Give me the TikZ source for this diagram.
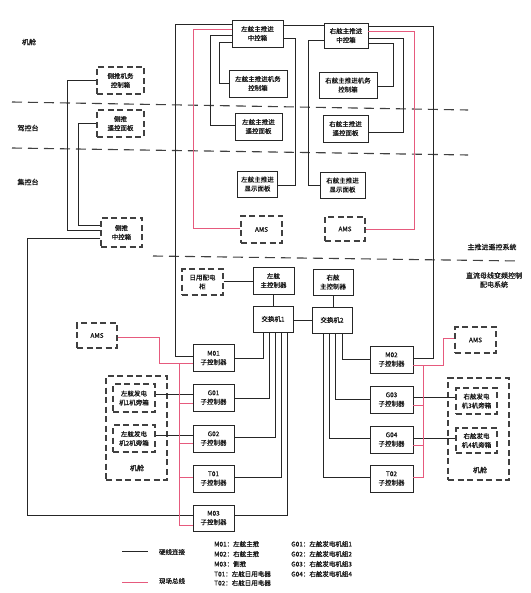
\documentclass[tikz,border=0pt]{standalone}
\usepackage{fontspec}
\newfontfamily\cjk[FakeBold=0.6]{Noto Sans CJK SC}
\begin{document}
\begin{tikzpicture}[x=1pt,y=-1pt,
  every node/.style={font=\cjk\fontsize{6.5}{9}\selectfont, text=black!90, inner sep=0pt, align=center},
  box/.style={draw=black!85, line width=0.9pt, fill=white},
  dbox/.style={draw=black!75, line width=1.1pt, dash pattern=on 6pt off 3.5pt, fill=white},
  wire/.style={draw=black!85, line width=0.8pt},
  fbus/.style={draw={rgb,255:red,230;green,90;blue,125}, line width=1pt},
  divider/.style={draw=black!75, line width=1.1pt, dash pattern=on 10pt off 6pt},
  lbl/.style={font=\cjk\fontsize{7}{9}\selectfont}
]
\useasboundingbox (0,0) rectangle (530,593);

% dividers
\coordinate (d1a) at (12,102); \coordinate (d1b) at (468,110);
\coordinate (d2a) at (12,148); \coordinate (d2b) at (468,155);
\coordinate (d3a) at (153,256); \coordinate (d3b) at (520,261);
\draw[divider] (d1a) -- (d1b);
\draw[divider] (d2a) -- (d2b);
\draw[divider] (d3a) -- (d3b);

% zone labels
\node[lbl] (zjc) at (29,42) {机舱};
\node[lbl] (zjk) at (28,128) {驾控台};
\node[lbl] (zjz) at (28,182) {集控台};
\node[lbl] (zzt) at (492,247) {主推进遥控系统};
\node[lbl] (zzl) at (494,280) {直流母线变频控制\\配电系统};

% top boxes
\node[box, minimum width=51, minimum height=27] (LC) at (257.5,33.5) {左舷主推进\\中控箱};
\node[box, minimum width=44, minimum height=25] (RC) at (346,35.5) {右舷主推进\\中控箱};
\node[box, minimum width=58, minimum height=27] (LJ) at (258,83.5) {左舷主推进机务\\控制箱};
\node[box, minimum width=58, minimum height=26] (RJ) at (348,85) {右舷主推进机务\\控制箱};
\node[box, minimum width=47, minimum height=27] (LY) at (258.5,126.5) {左舷主推进\\遥控面板};
\node[box, minimum width=45, minimum height=27] (RY) at (345.5,128.5) {右舷主推进\\遥控面板};
\node[box, minimum width=40, minimum height=26] (LX) at (257.5,184) {左舷主推进\\显示面板};
\node[box, minimum width=45, minimum height=26] (RX) at (342.5,185) {右舷主推进\\显示面板};
\node[dbox, minimum width=41, minimum height=27] (AMSL) at (261.5,229.5) {AMS};
\node[dbox, minimum width=40, minimum height=24] (AMSR) at (345,229) {AMS};

% side thruster boxes
\node[dbox, minimum width=47, minimum height=27] (TJ) at (120.5,80.5) {侧推机务\\控制箱};
\node[dbox, minimum width=47, minimum height=27] (TY) at (120.5,123.5) {侧推\\遥控面板};
\node[dbox, minimum width=41, minimum height=29] (TZ) at (121.5,232.5) {侧推\\中控箱};

% middle
\node[dbox, minimum width=41, minimum height=26] (DP) at (202.5,282) {日用配电\\柜};
\node[box, minimum width=41, minimum height=27] (LM) at (273.5,280.5) {左舷\\主控制器};
\node[box, minimum width=40, minimum height=26] (RM) at (333,282) {右舷\\主控制器};
\node[box, minimum width=40, minimum height=26] (SW1) at (273,319) {交换机1};
\node[box, minimum width=40, minimum height=26] (SW2) at (332,320) {交换机2};

% sub controllers left
\node[box, minimum width=41, minimum height=27] (M01) at (213.5,358) {M01\\子控制器};
\node[box, minimum width=41, minimum height=27] (G01) at (213.5,397.5) {G01\\子控制器};
\node[box, minimum width=41, minimum height=27] (G02) at (213.5,438.5) {G02\\子控制器};
\node[box, minimum width=41, minimum height=27] (T01) at (213.5,478.5) {T01\\子控制器};
\node[box, minimum width=41, minimum height=26] (M03) at (213.5,518) {M03\\子控制器};
% sub controllers right
\node[box, minimum width=43, minimum height=27] (M02) at (391.5,359.5) {M02\\子控制器};
\node[box, minimum width=43, minimum height=27] (G03) at (391.5,399.5) {G03\\子控制器};
\node[box, minimum width=43, minimum height=27] (G04) at (391.5,439.5) {G04\\子控制器};
\node[box, minimum width=43, minimum height=27] (T02) at (391.5,478.5) {T02\\子控制器};

% AMS side boxes
\node[dbox, minimum width=40, minimum height=25] (AMSLL) at (97,335.5) {AMS};
\node[dbox, minimum width=41, minimum height=26] (AMSRR) at (475.5,340) {AMS};

% engine rooms
\node[dbox, minimum width=61, minimum height=104] (ERL) at (136.5,428) {};
\node[lbl] (ERLt) at (137,468) {机舱};
\node[dbox, minimum width=42, minimum height=28] (GEN1) at (134,398) {左舷发电\\机1机旁箱};
\node[dbox, minimum width=42, minimum height=27] (GEN2) at (134,438.5) {左舷发电\\机2机旁箱};
\node[dbox, minimum width=61, minimum height=102] (ERR) at (478.5,429) {};
\node[lbl] (ERRt) at (480,470) {机舱};
\node[dbox, minimum width=41, minimum height=26] (GEN3) at (476.5,401) {右舷发电\\机3机旁箱};
\node[dbox, minimum width=41, minimum height=25] (GEN4) at (476.5,440.5) {右舷发电\\机4机旁箱};

% top connections
\draw[wire] (LC.east |- 0,25) -- (RC.west |- 0,25);
\draw[wire] (LC.west |- 0,24) -- (175,24) |- (M01.west |- 0,356);
\draw[fbus] (LC.west |- 0,30) -- (193,30) |- (AMSL.west |- 0,229);
\draw[wire] (LC.west |- 0,35) -- (210,35) |- (LY.west |- 0,125);
\draw[wire] (LC.west |- 0,42) -- (219,42) |- (LJ.west |- 0,83);
\draw[wire] (LC.east |- 0,38) -- (295,38) |- (LX.east |- 0,185);
\draw[wire] (RC.west |- 0,40) -- (308,40) |- (RX.west |- 0,185);
\draw[wire] (RC.east |- 0,26) -- (433,26) |- (M02.east |- 0,358);
\draw[fbus] (RC.east |- 0,32) -- (414,32) |- (AMSR.east |- 0,230);
\draw[wire] (RC.east |- 0,38) -- (403,38) |- (RY.east |- 0,132);
\draw[wire] (RC.east |- 0,43) -- (393,43) |- (RJ.east |- 0,86);

% side thruster connections
\draw[wire] (TJ.west |- 0,80) -- (67,80) |- (TZ.west |- 0,230);
\draw[wire] (TY.west |- 0,123) -- (78,123) |- (TZ.west |- 0,225);
\draw[wire] (TZ.west |- 0,238) -- (27,238) |- (M03.west |- 0,515);

% middle connections
\draw[wire] (DP.east |- 0,281) -- (LM.west |- 0,281);
\draw[wire] (LM.south) -- (LM.south |- SW1.north);
\draw[wire] (RM.south) -- (RM.south |- SW2.north);
\draw[wire] (SW1.east |- 0,320) -- (SW2.west |- 0,320);

% switch 1 to left sub controllers
\draw[wire] (SW1.south -| 263,0) |- (M01.east |- 0,358);
\draw[wire] (SW1.south -| 269,0) |- (G01.east |- 0,398);
\draw[wire] (SW1.south -| 275,0) |- (G02.east |- 0,437);
\draw[wire] (SW1.south -| 281,0) |- (T01.east |- 0,477);
\draw[wire] (SW1.south -| 287,0) |- (M03.east |- 0,515);
% switch 2 to right sub controllers
\draw[wire] (SW2.south -| 342,0) |- (M02.west |- 0,359);
\draw[wire] (SW2.south -| 335,0) |- (G03.west |- 0,399);
\draw[wire] (SW2.south -| 329,0) |- (G04.west |- 0,438);
\draw[wire] (SW2.south -| 323,0) |- (T02.west |- 0,477);

% generator boxes
\draw[wire] (GEN1.east |- 0,394) -- (G01.west |- 0,394);
\draw[wire] (GEN2.east |- 0,435) -- (G02.west |- 0,435);
\draw[wire] (G03.east |- 0,397) -- (GEN3.west |- 0,397);
\draw[wire] (G04.east |- 0,438) -- (GEN4.west |- 0,438);

% field bus left
\coordinate (lbt) at (179,363);
\draw[fbus] (AMSLL.east |- 0,337) -- (159,337) |- (M01.west |- 0,363);
\draw[fbus] (lbt) |- (M03.west |- 0,525);
\draw[fbus] (179,403) -- (G01.west |- 0,403);
\draw[fbus] (179,443) -- (G02.west |- 0,443);
\draw[fbus] (179,477) -- (T01.west |- 0,477);
% field bus right
\coordinate (rbt) at (423,365);
\draw[fbus] (M02.east |- 0,365) -- (443,365) |- (AMSRR.west |- 0,338);
\draw[fbus] (rbt) |- (T02.east |- 0,477);
\draw[fbus] (423,405) -- (G03.east |- 0,405);
\draw[fbus] (423,445) -- (G04.east |- 0,445);

% legend
\coordinate (k1a) at (122,551); \coordinate (k1b) at (148,551);
\coordinate (k2a) at (122,582); \coordinate (k2b) at (148,582);
\draw[wire] (k1a) -- (k1b);
\draw[fbus] (k2a) -- (k2b);
\node (k1t) at (172,552) {硬线连接};
\node (k2t) at (172,581) {现场总线};

\node[anchor=west] (a1) at (214,544) {M01：左舷主推};
\node[anchor=west] (a2) at (214,554) {M02：右舷主推};
\node[anchor=west] (a3) at (214,564) {M03：侧推};
\node[anchor=west] (a4) at (214,574) {T01：左舷日用电器};
\node[anchor=west] (a5) at (214,583) {T02：右舷日用电器};
\node[anchor=west] (b1) at (291,544) {G01：左舷发电机组1};
\node[anchor=west] (b2) at (291,554) {G02：左舷发电机组2};
\node[anchor=west] (b3) at (291,564) {G03：右舷发电机组3};
\node[anchor=west] (b4) at (291,574) {G04：右舷发电机组4};
\end{tikzpicture}
\end{document}
